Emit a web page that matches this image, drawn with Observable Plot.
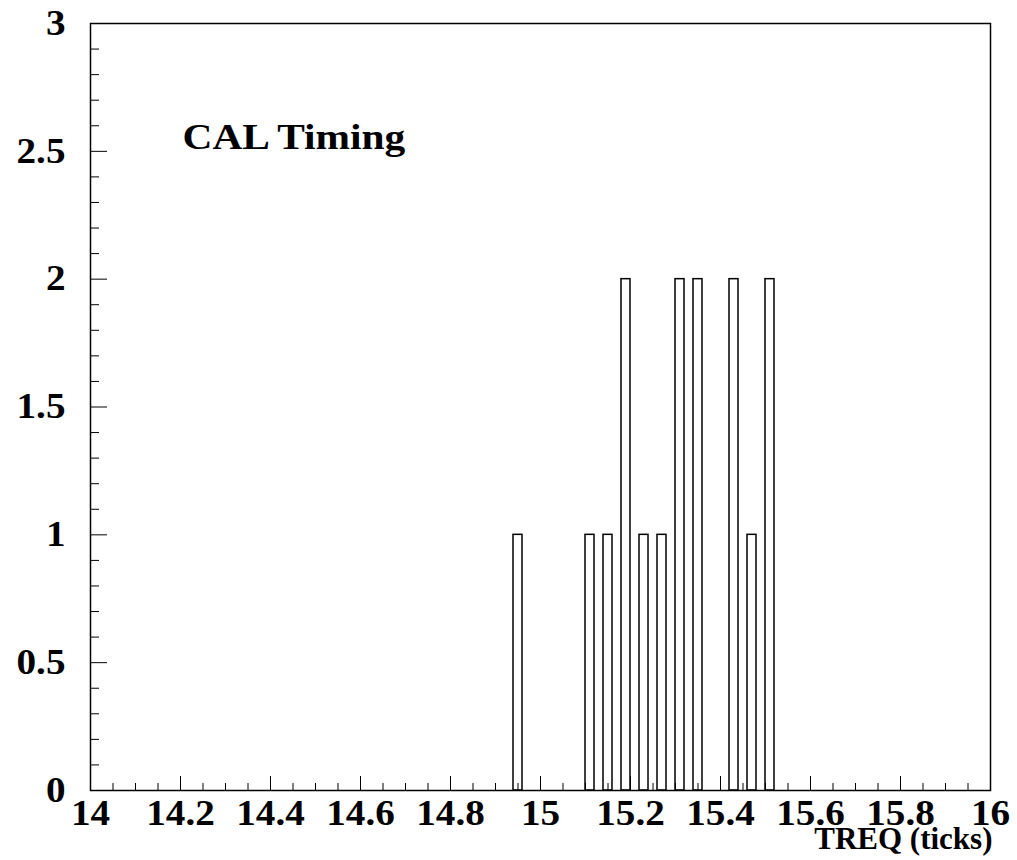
<!DOCTYPE html>
<html><head><meta charset="utf-8">
<script src="https://cdn.jsdelivr.net/npm/d3@7"></script>
<script src="https://cdn.jsdelivr.net/npm/@observablehq/plot@0.6"></script>
<style>body{margin:0;background:#fff}</style>
</head><body><div id="chart"></div>
<script>
// Histogram bins (lower edge) and counts
const binStarts = [14.94, 15.10, 15.14, 15.18, 15.22, 15.26, 15.30, 15.34, 15.42, 15.46, 15.50];
const counts    = [1, 1, 1, 2, 1, 1, 2, 2, 2, 1, 2];
const binWidth = 0.02;

const xTicks = [14, 14.2, 14.4, 14.6, 14.8, 15, 15.2, 15.4, 15.6, 15.8, 16];
const xTickLabels = ["14", "14.2", "14.4", "14.6", "14.8", "15", "15.2", "15.4", "15.6", "15.8", "16"];
const yTicks = [0, 0.5, 1, 1.5, 2, 2.5, 3];
const yTickLabels = ["0", "0.5", "1", "1.5", "2", "2.5", "3"];

const title = "CAL Timing";
const xTitle = "TREQ (ticks)";

const xMinor = d3.range(0, 41).map(i => +(14 + i * 0.05).toFixed(2)).filter(v => !xTicks.includes(v));
const yMinor = d3.range(0, 31).map(i => +(i * 0.1).toFixed(1)).filter(v => !yTicks.includes(v));

const bins = binStarts.map((s, i) => ({x1: s, x2: +(s + binWidth).toFixed(2), count: counts[i]}));

const font = "Liberation Serif, Times New Roman, serif";
const xLab = new Map(xTicks.map((t, i) => [t, xTickLabels[i]]));
const yLab = new Map(yTicks.map((t, i) => [t, yTickLabels[i]]));

const chart = Plot.plot({
  width: 1017,
  height: 860,
  marginLeft: 90,
  marginRight: 27,
  marginTop: 23,
  marginBottom: 70,
  style: {background: "white", color: "black", fontFamily: font},
  x: {domain: [14, 16], label: null},
  y: {domain: [0, 3], label: null},
  marks: [
    Plot.rectY(bins, {x1: "x1", x2: "x2", y: "count", fill: "white", stroke: "black", strokeWidth: 1.5}),
    // inward ticks
    Plot.axisX(xTicks, {anchor: "bottom", tickSize: -14, tickFormat: () => "", label: null, stroke: "black"}),
    Plot.axisX(xMinor, {anchor: "bottom", tickSize: -7, tickFormat: () => "", label: null, stroke: "black"}),
    Plot.axisY(yTicks, {anchor: "left", tickSize: -17, tickFormat: () => "", label: null, stroke: "black"}),
    Plot.axisY(yMinor, {anchor: "left", tickSize: -9, tickFormat: () => "", label: null, stroke: "black"}),
    // tick labels
    Plot.axisX(xTicks, {anchor: "bottom", tickSize: 0, tickPadding: 10, tickFormat: d => xLab.get(d), label: null,
      fontSize: 35, fontWeight: "bold", fontFamily: font, fill: "black"}),
    Plot.axisY(yTicks, {anchor: "left", tickSize: 0, tickPadding: 25, tickFormat: d => yLab.get(d), label: null,
      fontSize: 35, fontWeight: "bold", fontFamily: font, fill: "black"}),
    Plot.frame({stroke: "black", strokeWidth: 1.5}),
    Plot.text([title], {frameAnchor: "top-left", dx: 92, dy: 125, lineAnchor: "bottom", textAnchor: "start",
      fontSize: 36, fontWeight: "bold", fontFamily: font, fill: "black"}),
    Plot.text([xTitle], {frameAnchor: "bottom-right", dx: 2, dy: 58, lineAnchor: "bottom", textAnchor: "end",
      fontSize: 31, fontWeight: "bold", fontFamily: font, fill: "black"})
  ]
});

// Widen glyphs horizontally to match the reference's stretched bold serif face
const allTexts = Array.from(chart.querySelectorAll("text"));
for (const t of allTexts) {
  const s = t.textContent;
  let k = null;
  if (s === title) k = 1.15;
  else if (xTickLabels.includes(s) || yTickLabels.includes(s)) k = 1.12;
  if (k) {
    const tr = t.getAttribute("transform") || "";
    t.setAttribute("transform", `${tr} scale(${k},1)`);
  }
}
document.getElementById("chart").appendChild(chart);
</script>
</body></html>
